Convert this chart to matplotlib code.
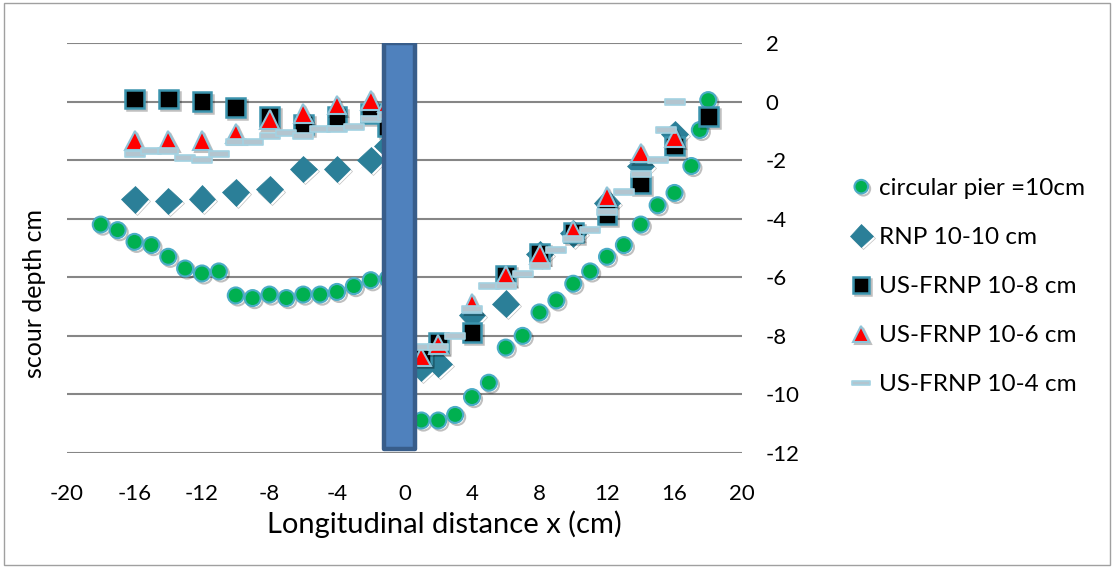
import matplotlib
matplotlib.use("Agg")
import matplotlib.pyplot as plt
import matplotlib.patheffects as pe
from matplotlib.path import Path
from matplotlib.patches import Rectangle
import numpy as np

plt.rcParams['font.family'] = ['Lato', 'DejaVu Sans']

# ---- data ----
circ_x = [-18, -17, -16, -15, -14, -13, -12, -11, -10, -9, -8, -7, -6, -5, -4, -3, -2, -1,
          1, 2, 3, 4, 5, 6, 7, 8, 9, 10, 11, 12, 13, 14, 15, 16, 17, 17.5, 18]
circ_y = [-4.2, -4.39, -4.79, -4.9, -5.3, -5.7, -5.87, -5.8, -6.62, -6.71, -6.59, -6.71, -6.59,
          -6.59, -6.5, -6.3, -6.1, -6.05,
          -10.89, -10.89, -10.7, -10.09, -9.6, -8.4, -8.0, -7.2, -6.79, -6.22, -5.8, -5.3,
          -4.9, -4.2, -3.54, -3.12, -2.2, -0.97, 0.05]

rnp_x = [-16, -14, -12, -10, -8, -6, -4, -2, -1, 1, 2, 4, 6, 8, 10, 12, 14, 16]
rnp_y = [-3.34, -3.39, -3.31, -3.1, -3.0, -2.3, -2.3, -2.0, -1.5,
         -9.1, -8.95, -7.3, -6.9, -5.2, -4.5, -3.45, -2.2, -1.12]

us8_x = [-16, -14, -12, -10, -8, -6, -4, -2, -1, 1, 2, 4, 6, 8, 10, 12, 14, 16, 18]
us8_y = [0.09, 0.09, -0.01, -0.2, -0.5, -0.78, -0.52, -0.4, -0.85,
         -8.65, -8.22, -7.88, -5.93, -5.18, -4.48, -3.85, -2.81, -1.52, -0.5]

us6_x = [-16, -14, -12, -10, -8, -6, -4, -2, -1, 1, 2, 4, 6, 8, 10, 12, 14, 16]
us6_y = [-1.32, -1.32, -1.32, -1.09, -0.61, -0.4, -0.12, 0.03, -0.05,
         -8.72, -8.3, -6.9, -5.93, -5.22, -4.39, -3.25, -1.76, -1.23]

us4_x = [-16, -15, -14, -13, -12, -11, -10, -9, -8, -7, -6, -5, -4, -3, -2, -1,
         1, 2, 3, 4, 5, 6, 7, 8, 9, 10, 11, 12, 13, 14, 15, 15.5, 16]
us4_y = [-1.8, -1.68, -1.68, -1.91, -2.0, -1.8, -1.37, -1.38, -1.16, -1.07, -1.18, -0.95,
         -0.95, -0.86, -0.61, -0.5,
         -8.38, -8.38, -8.0, -7.09, -6.31, -6.31, -5.9, -5.6, -5.08, -4.68, -4.4, -3.77,
         -3.1, -2.48, -2.0, -0.97, 0.0]

labels = ['circular pier =10cm', 'RNP 10-10 cm', 'US-FRNP 10-8 cm',
          'US-FRNP 10-6 cm', 'US-FRNP 10-4 cm']

pier_left, pier_right, pier_bottom, pier_top = -1.2, 0.6, -11.85, 2.0

x_ticks = np.arange(-20, 21, 4)
y_ticks = np.arange(-12, 3, 2)

# ---- figure ----
fig = plt.figure(figsize=(11.14, 5.68), dpi=100)
ax = fig.add_axes([67 / 1114, 1 - 453 / 568, (742 - 67) / 1114, (453 - 43) / 568])

shadow = [pe.SimpleLineShadow(offset=(1.5, -1.5), shadow_color='black', alpha=0.25), pe.Normal()]

dash = Path([(-0.5, -0.13), (0.5, -0.13), (0.5, 0.13), (-0.5, 0.13), (-0.5, -0.13)],
            [Path.MOVETO, Path.LINETO, Path.LINETO, Path.LINETO, Path.CLOSEPOLY])

ax.plot(circ_x, circ_y, ls='none', marker='o', ms=11.5, mfc='#00B050', mec='#4BACC6',
        mew=1.5, label=labels[0], zorder=3, path_effects=shadow)
ax.plot(rnp_x, rnp_y, ls='none', marker='D', ms=13.5, mfc='#2B7F98', mec='#2B7F98',
        mew=0.5, label=labels[1], zorder=4, path_effects=shadow)
ax.plot(us8_x, us8_y, ls='none', marker='s', ms=13.5, mfc='black', mec='#3A93AD',
        mew=1.8, label=labels[2], zorder=5, path_effects=shadow)
ax.plot(us6_x, us6_y, ls='none', marker='^', ms=13.5, mfc='#FF0000', mec='#8EC3D8',
        mew=1.5, label=labels[3], zorder=6, path_effects=shadow)
ax.plot(us4_x, us4_y, ls='none', marker=dash, ms=15, mfc='#B3C5CF', mec='#A3D2E2',
        mew=1.2, label=labels[4], zorder=7)

ax.add_patch(Rectangle((pier_left, pier_bottom), pier_right - pier_left, pier_top - pier_bottom,
                       facecolor='#4F81BD', edgecolor='#385D8A', lw=3.2, zorder=10,
                       joinstyle='round'))

ax.set_xlim(-20, 20)
ax.set_ylim(-12, 2)
ax.set_xticks(x_ticks)
ax.set_yticks(y_ticks)
ax.set_xticklabels([str(v) for v in x_ticks])
ax.set_yticklabels([str(v) for v in y_ticks])
ax.yaxis.tick_right()
ax.tick_params(axis='y', length=0, pad=17, labelsize=16)
ax.tick_params(axis='x', length=0, pad=22, labelsize=16)
for lab in ax.get_yticklabels():
    lab.set_horizontalalignment('left')
ax.grid(axis='y', color='#868686', lw=1.5)
ax.set_axisbelow(True)
for s in ax.spines.values():
    s.set_visible(False)

fig.text(444 / 1114, 1 - 524 / 568, 'Longitudinal distance x (cm)', ha='center', va='center',
         fontsize=21)
fig.text(35 / 1114, 1 - 294 / 568, 'scour depth cm', ha='center', va='center',
         rotation=90, fontsize=18)

leg = ax.legend(loc='upper left', bbox_to_anchor=(840 / 1114, 1 - 166 / 568),
                bbox_transform=fig.transFigure, frameon=False, fontsize=17.5,
                handlelength=0.75, handletextpad=0.35, labelspacing=1.15, borderpad=0,
                markerscale=0.85)

fig.add_artist(Rectangle((4 / 1114, 3 / 568), 1 - 8 / 1114, 1 - 6 / 568, transform=fig.transFigure,
                         fill=False, edgecolor='#A0A0A0', lw=1))

fig.savefig('out.png', dpi=100)
